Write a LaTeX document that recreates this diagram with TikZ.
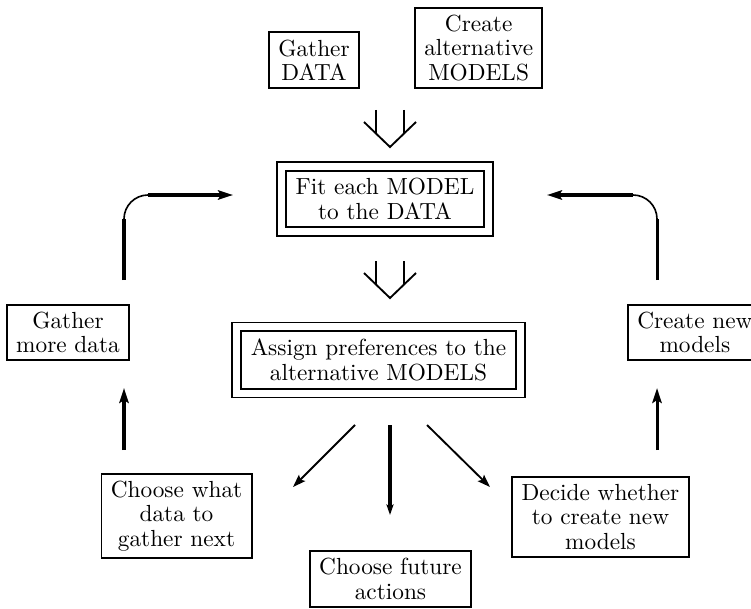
\documentclass[tikz,border=0pt]{standalone}
\usepackage{tikz}
\usetikzlibrary{arrows.meta}
\tikzset{
  box/.style={draw, line width=0.8pt, align=center, inner xsep=4pt, inner ysep=3.2pt,
              font=\fontsize{10pt}{10.4pt}\selectfont},
  dbox/.style={box, double, double distance=3pt, inner xsep=6pt, inner ysep=5.3pt},
  arr/.style={line width=1.3pt, -{Stealth[length=6.4pt, width=4pt, inset=1.2pt]}},
  slim/.style={line width=0.8pt, -{Stealth[length=5.5pt, width=3.8pt, inset=1pt]}},
  stem/.style={line width=1.3pt},
  corner/.style={line width=0.7pt},
  fatdown/.pic={
    \draw[line width=0.8pt] (-26,25) -- (0,0) -- (26,25);
    \draw[line width=0.8pt] (-14,37) -- (-14,13.5) (14,37) -- (14,13.5);
  },
}

\begin{document}
\begin{tikzpicture}[x=0.4292pt, y=0.4292pt]
\useasboundingbox (0,0) rectangle (751,608);

% inputs
\node[box] (data) at (314,548) {Gather\\DATA};
\node[box, anchor=west] (models) at (414,560) {Create\\alternative\\MODELS};

% the two central steps
\node[dbox] (fit) at (385,409) {Fit each MODEL\\to the DATA};
\node[dbox] (assign) at (378.5,248) {Assign preferences to the\\alternative MODELS};

% side boxes
\node[box] (more) at (68,275.5) {Gather\\more data};
\node[box, anchor=west] (newm) at (627,275.5) {Create new\\models};

% decisions
\node[box] (what) at (176.5,92) {Choose what\\data to\\gather next};
\node[box] (decide) at (600.5,91) {Decide whether\\to create new\\models};
\node[box] (future) at (390.5,29) {Choose future\\actions};

\pic at (390,461) {fatdown};
\pic at (390,310) {fatdown};

% end points of the free-standing arrows
\coordinate (gl0) at (124,328); \coordinate (gl1) at (124,389);
\coordinate (gl2) at (148,413); \coordinate (gl3) at (233,413);
\coordinate (cl0) at (657,328); \coordinate (cl1) at (657,389);
\coordinate (cl2) at (633,413); \coordinate (cl3) at (547,413);
\coordinate (gu0) at (124,158); \coordinate (gu1) at (124,220);
\coordinate (cu0) at (657,158); \coordinate (cu1) at (657,220);
\coordinate (fd0) at (390,183); \coordinate (fd1) at (390,93);
\coordinate (wd0) at (355,183); \coordinate (wd1) at (293,121);
\coordinate (dd0) at (427,183); \coordinate (dd1) at (490,121);

% loops back to the fitting step
\draw[stem] (gl0) -- (gl1);
\draw[corner] (gl1) arc[start angle=180, end angle=90, radius=10.3pt];
\draw[arr] (gl2) -- (gl3);
\draw[stem] (cl0) -- (cl1);
\draw[corner] (cl1) arc[start angle=0, end angle=90, radius=10.3pt];
\draw[arr] (cl2) -- (cl3);

\foreach \a/\b in {gu0/gu1, cu0/cu1}
  \draw[arr] (\a) -- (\b);
\draw[arr, -{Stealth[length=4.5pt, width=3pt, inset=0.8pt]}] (fd0) -- (fd1);
\foreach \a/\b in {wd0/wd1, dd0/dd1}
  \draw[slim] (\a) -- (\b);

\end{tikzpicture}
\end{document}
